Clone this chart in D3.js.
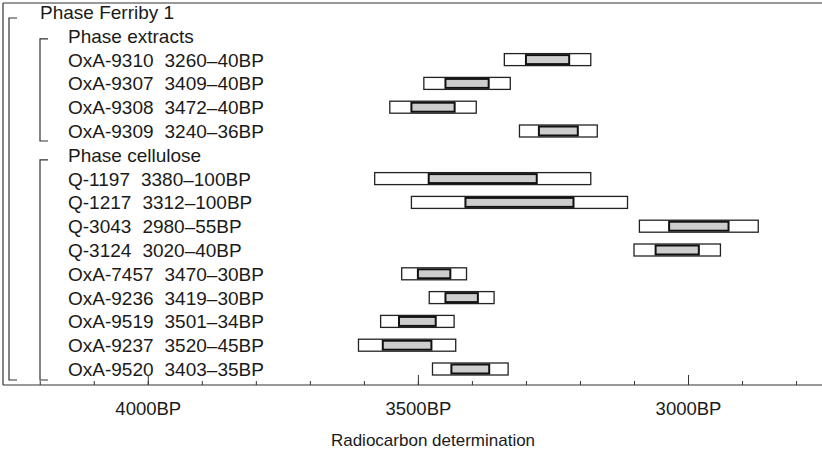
<!DOCTYPE html>
<meta charset="utf-8">
<script src="https://d3js.org/d3.v7.min.js"></script>
<style>
  body { margin: 0; background: #fff; }
  text { font-family: "Liberation Sans", Arial, sans-serif; fill: #1a1a1a; }
</style>
<div id="chart"></div>
<script>

// rows of the diagram, top to bottom
var phaseNames = ["Phase Ferriby 1", "Phase extracts", "Phase cellulose"];
var labIds = ["OxA-9310", "OxA-9307", "OxA-9308", "OxA-9309",
              "Q-1197", "Q-1217", "Q-3043", "Q-3124", "OxA-7457",
              "OxA-9236", "OxA-9519", "OxA-9237", "OxA-9520"];
var ages   = [3260, 3409, 3472, 3240, 3380, 3312, 2980, 3020, 3470, 3419, 3501, 3520, 3403];
var errors = [40, 40, 40, 36, 100, 100, 55, 40, 30, 30, 34, 45, 35];
var tickLabels = ["4000BP", "3500BP", "3000BP"];
var majorTicks = [4000, 3500, 3000];
var minorTicks = d3.range(4200, 2700, -100);

var width = 822, height = 451;

var svg = d3.select("#chart")
  .append("svg")
    .attr("width", width)
    .attr("height", height);

// build row list: phase headings + dates
var rows = [];
rows.push({type: "phase", name: phaseNames[0], indent: 0});
rows.push({type: "phase", name: phaseNames[1], indent: 1});
for (var i = 0; i < 4; i++) rows.push({type: "date", id: labIds[i], age: ages[i], err: errors[i]});
rows.push({type: "phase", name: phaseNames[2], indent: 1});
for (var i = 4; i < labIds.length; i++) rows.push({type: "date", id: labIds[i], age: ages[i], err: errors[i]});
rows.forEach(function(d, i) { d.row = i; });

// x axis runs backwards (older on the left)
var x = d3.scaleLinear()
  .domain([4268, 2752])
  .range([3, 822]);

var y = d3.scalePoint()
  .domain(d3.range(rows.length))
  .range([12, 369]);

var axisY = 385;

// frame
svg.append("line")
  .attr("x1", 3).attr("x2", width).attr("y1", 3).attr("y2", 3)
  .attr("stroke", "#333").attr("stroke-width", 1.2);
svg.append("line")
  .attr("x1", 3).attr("x2", 3).attr("y1", 3).attr("y2", axisY)
  .attr("stroke", "#333").attr("stroke-width", 1.2);

// brackets
function bracket(xPos, y1, y2) {
  svg.append("path")
    .attr("d", "M" + (xPos + 8) + "," + y1 + "H" + xPos + "V" + y2 + "H" + (xPos + 8))
    .attr("fill", "none")
    .attr("stroke", "#333")
    .attr("stroke-width", 1.2);
}
bracket(9, y(0) + 6, 380);
bracket(40, y(1) + 3, y(5) + 10);
bracket(40, y(6) + 5, 380);

var fontSize = "19px";

// labels
svg.append("g")
  .selectAll("text")
  .data(rows.filter(function(d) { return d.type == "phase"; }))
  .enter().append("text")
    .attr("x", function(d) { return d.indent ? 68 : 40; })
    .attr("y", function(d) { return y(d.row); })
    .attr("dy", 7)
    .style("font-size", fontSize)
    .text(function(d) { return d.name; });

var dates = rows.filter(function(d) { return d.type == "date"; });

var ids = svg.append("g")
  .selectAll("text")
  .data(dates)
  .enter().append("text")
    .attr("x", 68)
    .attr("y", function(d) { return y(d.row); })
    .attr("dy", 7)
    .style("font-size", fontSize)
    .text(function(d) { return d.id; });

// value text sits a little after the lab code
ids.each(function(d) { d.idEnd = 68 + this.getComputedTextLength(); });

svg.append("g")
  .selectAll("text")
  .data(dates)
  .enter().append("text")
    .attr("x", function(d) { return d.idEnd + 11; })
    .attr("y", function(d) { return y(d.row); })
    .attr("dy", 7)
    .style("font-size", fontSize)
    .text(function(d) { return d.age + "\u2013" + d.err + "BP"; });

// 2 sigma boxes
svg.append("g")
  .selectAll("rect")
  .data(dates)
  .enter().append("rect")
    .attr("x", function(d) { return x(d.age + 2 * d.err); })
    .attr("y", function(d) { return y(d.row) - 6; })
    .attr("width", function(d) { return x(d.age - 2 * d.err) - x(d.age + 2 * d.err); })
    .attr("height", 12)
    .attr("fill", "#fff")
    .attr("stroke", "#222")
    .attr("stroke-width", 1.3);

// 1 sigma boxes
svg.append("g")
  .selectAll("rect")
  .data(dates)
  .enter().append("rect")
    .attr("x", function(d) { return x(d.age + d.err); })
    .attr("y", function(d) { return y(d.row) - 4.5; })
    .attr("width", function(d) { return x(d.age - d.err) - x(d.age + d.err); })
    .attr("height", 9)
    .attr("fill", "#cdcdcd")
    .attr("stroke", "#111")
    .attr("stroke-width", 2);

// axis
var axisG = svg.append("g")
  .attr("transform", "translate(0," + axisY + ")");

axisG.call(d3.axisBottom(x).tickValues(minorTicks).tickSize(-4).tickFormat(""))
  .call(function(g) { g.select(".domain").remove(); });

axisG.append("g")
  .call(d3.axisBottom(x).tickValues(majorTicks).tickSize(-10).tickPadding(17)
    .tickFormat(function(d, i) { return tickLabels[i]; }))
  .call(function(g) { g.select(".domain").remove(); })
  .selectAll("text")
    .style("font-family", "'Liberation Sans', Arial, sans-serif")
    .style("font-size", "18.5px")
    .attr("fill", "#1a1a1a");

axisG.selectAll(".tick line").attr("stroke", "#333");

axisG.append("line")
  .attr("x1", 3).attr("x2", width)
  .attr("y1", 0).attr("y2", 0)
  .attr("stroke", "#333").attr("stroke-width", 1.2);

svg.append("text")
  .attr("x", 433)
  .attr("y", 446)
  .attr("text-anchor", "middle")
  .style("font-size", "17px")
  .text("Radiocarbon determination");

</script>
